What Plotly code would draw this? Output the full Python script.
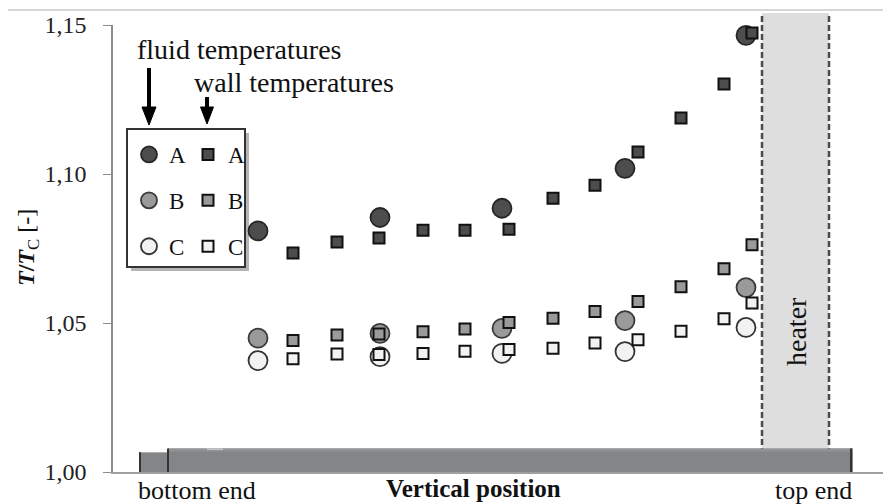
import plotly.graph_objects as go

# ---- data ----
pos_fluid = [145, 267, 389, 512, 633]
fluid_A = [1.0809, 1.0854, 1.0885, 1.1019, 1.1465]
fluid_B = [1.0449, 1.0465, 1.0482, 1.0508, 1.0619]
fluid_C = [1.0374, 1.0387, 1.0398, 1.0404, 1.0485]

pos_wall = [180, 224, 266, 310, 352, 396, 440, 482, 525, 568, 611, 639]
wall_A = [1.0735, 1.0772, 1.0785, 1.0811, 1.0811, 1.0815, 1.0919, 1.0962, 1.1074, 1.1188, 1.1302, 1.1473]
wall_B = [1.0441, 1.0460, 1.0463, 1.0471, 1.0480, 1.0502, 1.0516, 1.0539, 1.0572, 1.0622, 1.0682, 1.0763]
wall_C = [1.0380, 1.0396, 1.0394, 1.0398, 1.0405, 1.0411, 1.0415, 1.0433, 1.0444, 1.0472, 1.0514, 1.0567]

series_names = ["A", "B", "C"]
y_ticks = [1.00, 1.05, 1.10, 1.15]
y_ticktext = ["1,00", "1,05", "1,10", "1,15"]

# ---- layout geometry (page has an 8px body margin) ----
OFF = 8
W, H = 891 - OFF, 504 - OFF
PLOT_L, PLOT_R, PLOT_T, PLOT_B = 113, 891, 25, 472   # in window pixels
L, R, T, B = PLOT_L - OFF, (OFF + W) - PLOT_R, PLOT_T - OFF, (OFF + H) - PLOT_B
PW, PH = PLOT_R - PLOT_L, PLOT_B - PLOT_T


def xp(px):
    return (px - PLOT_L) / PW


def yp(py):
    return (PLOT_B - py) / PH


SERIF = "Liberation Serif, Times New Roman, serif"
fills = ["#4d4d4d", "#9a9a9a", "#f2f2f2"]
circle_lines = ["#262626", "#3a3a3a", "#333333"]

fig = go.Figure()

for name, ys, fc, lc in zip(series_names, [fluid_A, fluid_B, fluid_C], fills, circle_lines):
    fig.add_trace(go.Scatter(
        x=pos_fluid, y=ys, mode="markers", name=name, legend="legend",
        legendgroup="f" + name,
        marker=dict(symbol="circle", size=19, color=fc, line=dict(color=lc, width=1.8)),
    ))

for name, ys, fc in zip(series_names, [wall_A, wall_B, wall_C], fills):
    fig.add_trace(go.Scatter(
        x=pos_wall, y=ys, mode="markers", name=name, legend="legend2",
        legendgroup="w" + name,
        marker=dict(symbol="square", size=11, color=fc, line=dict(color="#111111", width=2)),
    ))

shapes = []
# top frame line
shapes.append(dict(type="line", xref="paper", yref="paper", x0=xp(OFF), x1=1, y0=yp(10), y1=yp(10),
                   line=dict(color="#c8c8c8", width=1.5), layer="below"))
# heater zone
shapes.append(dict(type="rect", xref="x", yref="paper", x0=649, x1=716, y0=yp(448), y1=yp(13),
                   fillcolor="#dedede", line=dict(width=0), layer="below"))
# pipe
shapes.append(dict(type="rect", xref="x", yref="y", x0=26, x1=56, y0=1.0, y1=1.0066,
                   fillcolor="#838587", line=dict(width=0), layer="below"))
shapes.append(dict(type="rect", xref="x", yref="y", x0=55, x1=740, y0=1.0, y1=1.0079,
                   fillcolor="#838587", line=dict(width=0), layer="below"))
shapes.append(dict(type="rect", xref="x", yref="y", x0=55, x1=740, y0=1.0069, y1=1.0079,
                   fillcolor="#909294", line=dict(width=0), layer="below"))
# small notch on the pipe top
shapes.append(dict(type="rect", xref="x", yref="y", x0=94, x1=110, y0=1.0074, y1=1.0079,
                   fillcolor="#c9cacb", line=dict(width=0), layer="below"))
for xv in [27, 55, 738]:
    shapes.append(dict(type="line", xref="x", yref="y", x0=xv, x1=xv, y0=1.0, y1=1.0066 if xv == 27 else 1.0079,
                       line=dict(color="#333333", width=2), layer="below"))
for xv in [649, 716]:
    shapes.append(dict(type="line", xref="x", yref="paper", x0=xv, x1=xv, y0=0, y1=yp(13),
                       line=dict(color="#4a4a4a", width=2.5, dash="6px,3px"), layer="below"))
# legend box with shadow
shapes.append(dict(type="rect", xref="paper", yref="paper", x0=xp(131), x1=xp(249), y0=yp(271), y1=yp(133),
                   fillcolor="#b5b5b5", line=dict(width=0), layer="below"))
shapes.append(dict(type="rect", xref="paper", yref="paper", x0=xp(127), x1=xp(245), y0=yp(267), y1=yp(129),
                   fillcolor="white", line=dict(color="#333333", width=2), layer="below"))


# arrows above the legend
def arrow(cx, top, head_top, tip, half):
    shapes.append(dict(type="line", xref="paper", yref="paper", x0=xp(cx), x1=xp(cx), y0=yp(top), y1=yp(head_top + 2),
                       line=dict(color="#000", width=4)))
    shapes.append(dict(type="path", xref="paper", yref="paper",
                       path=f"M {xp(cx - half)},{yp(head_top)} L {xp(cx + half)},{yp(head_top)} L {xp(cx)},{yp(tip)} Z",
                       fillcolor="#000", line=dict(color="#000", width=1)))


arrow(149, 68, 107, 125, 7)
arrow(207, 97, 107, 124, 6.5)

ann_font = dict(family=SERIF, size=28, color="#111")
annotations = [
    dict(text="fluid temperatures", x=xp(135), y=yp(50), xanchor="left", yanchor="middle", font=ann_font),
    dict(text="wall temperatures", x=xp(192), y=yp(82), xanchor="left", yanchor="middle", font=ann_font),
    dict(text="heater", x=xp(797), y=yp(332), xanchor="center", yanchor="middle", textangle=-90, font=ann_font),
    dict(text="bottom end", x=xp(197), y=yp(490), xanchor="center", yanchor="middle",
         font=dict(family=SERIF, size=26, color="#111")),
    dict(text="<b>Vertical position</b>", x=xp(473), y=yp(488), xanchor="center", yanchor="middle",
         font=dict(family=SERIF, size=25, color="#111")),
    dict(text="top end", x=xp(813), y=yp(490), xanchor="center", yanchor="middle",
         font=dict(family=SERIF, size=26, color="#111")),
    dict(text="<b><i>T</i>/<i>T</i></b><sub>C</sub> [-]", x=xp(28), y=yp(248), xanchor="center", yanchor="middle",
         textangle=-90, font=dict(family=SERIF, size=24, color="#111")),
]
for a in annotations:
    a.update(xref="paper", yref="paper", showarrow=False)

fig.update_layout(
    width=W, height=H,
    margin=dict(l=L, r=R, t=T, b=B, pad=0),
    paper_bgcolor="white", plot_bgcolor="white",
    shapes=shapes, annotations=annotations,
    xaxis=dict(range=[0, PW], showline=True, linecolor="#a0a0a0", linewidth=1.5,
               showgrid=False, zeroline=False, showticklabels=False, ticks=""),
    yaxis=dict(range=[1.0, 1.15], tickvals=y_ticks, ticktext=y_ticktext, ticks="outside", ticklen=8,
               tickcolor="#8c8c8c", showline=True, linecolor="#8c8c8c", linewidth=1.5,
               showgrid=False, zeroline=False, ticklabelstandoff=12,
               tickfont=dict(family=SERIF, size=24, color="#222")),
    legend=dict(x=xp(129), y=yp(133), xanchor="left", yanchor="top", bgcolor="rgba(0,0,0,0)",
                borderwidth=0, tracegroupgap=13, itemsizing="trace",
                font=dict(family=SERIF, size=23, color="#111")),
    legend2=dict(x=xp(188), y=yp(133), xanchor="left", yanchor="top", bgcolor="rgba(0,0,0,0)",
                 borderwidth=0, tracegroupgap=13, itemsizing="trace",
                 font=dict(family=SERIF, size=23, color="#111")),
    showlegend=True,
)

fig.write_html("out.html")
